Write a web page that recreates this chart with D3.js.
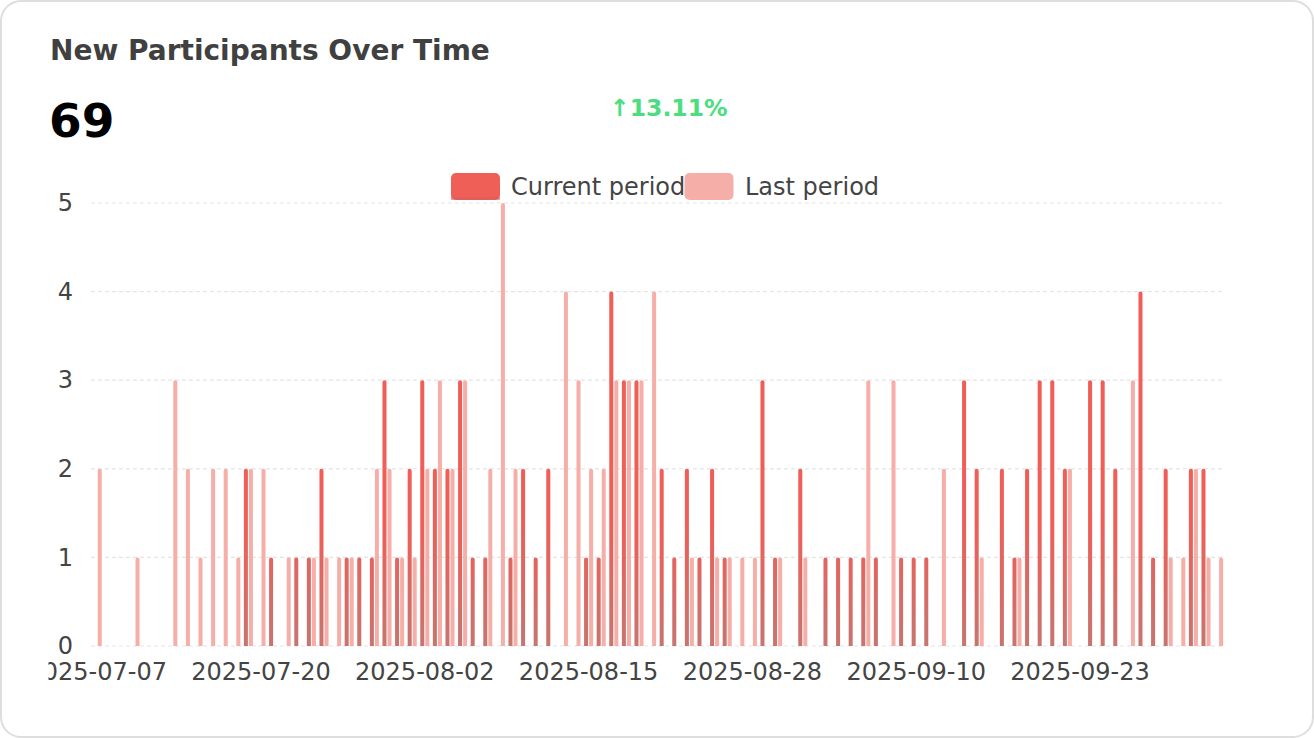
<!DOCTYPE html>
<html>
<head>
<meta charset="utf-8">
<script src="https://cdn.jsdelivr.net/npm/d3@7"></script>
<style>
  html, body { margin: 0; padding: 0; background: #ffffff; }
  svg { display: block; font-family: "DejaVu Sans", sans-serif; }
</style>
</head>
<body>
<svg id="chart" width="1314" height="738"></svg>
<script>
// ---- data ----
const dates = [
  "2025-07-07","2025-07-08","2025-07-09","2025-07-10","2025-07-11","2025-07-12","2025-07-13","2025-07-14","2025-07-15","2025-07-16",
  "2025-07-17","2025-07-18","2025-07-19","2025-07-20","2025-07-21","2025-07-22","2025-07-23","2025-07-24","2025-07-25","2025-07-26",
  "2025-07-27","2025-07-28","2025-07-29","2025-07-30","2025-07-31","2025-08-01","2025-08-02","2025-08-03","2025-08-04","2025-08-05",
  "2025-08-06","2025-08-07","2025-08-08","2025-08-09","2025-08-10","2025-08-11","2025-08-12","2025-08-13","2025-08-14","2025-08-15",
  "2025-08-16","2025-08-17","2025-08-18","2025-08-19","2025-08-20","2025-08-21","2025-08-22","2025-08-23","2025-08-24","2025-08-25",
  "2025-08-26","2025-08-27","2025-08-28","2025-08-29","2025-08-30","2025-08-31","2025-09-01","2025-09-02","2025-09-03","2025-09-04",
  "2025-09-05","2025-09-06","2025-09-07","2025-09-08","2025-09-09","2025-09-10","2025-09-11","2025-09-12","2025-09-13","2025-09-14",
  "2025-09-15","2025-09-16","2025-09-17","2025-09-18","2025-09-19","2025-09-20","2025-09-21","2025-09-22","2025-09-23","2025-09-24",
  "2025-09-25","2025-09-26","2025-09-27","2025-09-28","2025-09-29","2025-09-30","2025-10-01","2025-10-02","2025-10-03","2025-10-04"
];
const currentPeriod = [
  0,0,0,0,0,0,0,0,0,0,
  0,0,2,0,1,0,1,1,2,0,
  1,1,1,3,1,2,3,2,2,3,
  1,1,0,1,2,1,2,0,0,1,
  1,4,3,3,0,2,1,2,1,2,
  1,0,0,3,1,0,2,0,1,1,
  1,1,1,0,1,1,1,0,0,3,
  2,0,2,1,2,3,3,2,0,3,
  3,2,0,4,1,2,0,2,2,0
];
const lastPeriod = [
  2,0,0,1,0,0,3,2,1,2,
  2,1,2,2,0,1,0,1,1,1,
  1,0,2,2,1,1,2,3,2,3,
  0,2,5,2,0,0,0,4,3,2,
  2,3,3,3,4,0,0,1,0,1,
  1,1,1,0,1,0,1,0,0,0,
  0,3,0,3,0,0,0,2,0,0,
  1,0,0,1,0,0,0,2,0,0,
  0,0,3,0,0,1,1,2,1,1
];
const seriesNames = ["Current period", "Last period"];
const yTicks = [0, 1, 2, 3, 4, 5];
const xTickLabels = ["2025-07-07","2025-07-20","2025-08-02","2025-08-15","2025-08-28","2025-09-10","2025-09-23"];
const titleText = "New Participants Over Time";
const totalText = "69";
const changeText = "\u219113.11%";

// ---- layout ----
const W = 1314, H = 738;
const plotLeft = 90.9, plotRight = 1224.9, plotTop = 203, plotBottom = 646;
const colCurrent = "#EF5E57", colCurrentDark = "#C77570", colLast = "#F6AFA8";
const textCol = "#444444";

const svg = d3.select("#chart");
const defs = svg.append("defs");

// card
svg.append("rect").attr("x", 1).attr("y", 1).attr("width", W - 2).attr("height", H - 2)
  .attr("rx", 20).attr("fill", "#ffffff").attr("stroke", "#dedede").attr("stroke-width", 2);

// header
svg.append("text").attr("x", 50).attr("y", 60).attr("font-size", 28).attr("font-weight", "bold")
  .attr("fill", "#404040").text(titleText);
svg.append("text").attr("x", 49).attr("y", 137).attr("font-size", 47).attr("font-weight", "bold")
  .attr("fill", "#000000").text(totalText);
svg.append("text").attr("x", 610).attr("y", 116).attr("font-size", 23.5).attr("font-weight", "bold")
  .attr("fill", "#4ADE80").text(changeText);

// scales
const x = d3.scaleBand().domain(dates).range([plotLeft, plotRight]).paddingInner(0.2).paddingOuter(0.1);
const xs = d3.scaleBand().domain(seriesNames).range([0, x.bandwidth()]).paddingInner(0.2).paddingOuter(0.1);
const y = d3.scaleLinear().domain([0, 5]).range([plotBottom, plotTop]);

// gradient for current bars (user space)
const grad = defs.append("linearGradient").attr("id", "curGrad")
  .attr("gradientUnits", "userSpaceOnUse").attr("x1", 0).attr("x2", 0)
  .attr("y1", y(1.4)).attr("y2", y(0));
grad.append("stop").attr("offset", 0).attr("stop-color", colCurrent);
grad.append("stop").attr("offset", 1).attr("stop-color", colCurrentDark);

// grid
svg.append("g").selectAll("line").data(yTicks).join("line")
  .attr("x1", plotLeft).attr("x2", plotRight)
  .attr("y1", d => y(d)).attr("y2", d => y(d))
  .attr("stroke", "#e4e4e4").attr("stroke-width", 1.2).attr("stroke-dasharray", "4,3");

// y axis
const yAxis = svg.append("g").attr("transform", "translate(73,0)")
  .call(d3.axisLeft(y).tickValues(yTicks).tickSize(0).tickPadding(0).tickFormat(d3.format("d")));
yAxis.select(".domain").remove();
yAxis.selectAll("text").attr("font-size", 24).attr("fill", textCol).attr("font-family", "DejaVu Sans");

// x axis (clipped at the card padding)
defs.append("clipPath").attr("id", "xclip").append("rect")
  .attr("x", 48.5).attr("y", 600).attr("width", 1220).attr("height", 120);
const xAxis = svg.append("g").attr("clip-path", "url(#xclip)")
  .append("g").attr("transform", `translate(0,${plotBottom})`)
  .call(d3.axisBottom(x).tickValues(xTickLabels).tickSize(0));
xAxis.select(".domain").remove();
xAxis.selectAll("text").attr("font-size", 24).attr("fill", textCol).attr("font-family", "DejaVu Sans")
  .attr("dy", null).attr("y", 34);

// bars
function barPath(x0, w, yTop, yBase, r) {
  const h = yBase - yTop;
  if (h <= 0) return "";
  r = Math.min(r, w / 2, h);
  return `M${x0},${yBase}V${yTop + r}Q${x0},${yTop} ${x0 + r},${yTop}H${x0 + w - r}Q${x0 + w},${yTop} ${x0 + w},${yTop + r}V${yBase}Z`;
}
const series = [
  { name: seriesNames[1], values: lastPeriod, fill: colLast },
  { name: seriesNames[0], values: currentPeriod, fill: "url(#curGrad)" }
];
series.forEach(s => {
  svg.append("g").selectAll("path")
    .data(dates.map((d, i) => ({ date: d, v: s.values[i] })).filter(d => d.v > 0))
    .join("path")
    .attr("d", d => barPath(x(d.date) + xs(s.name), xs.bandwidth(), y(d.v), y(0), 2))
    .attr("fill", s.fill);
});

// legend
const legend = svg.append("g");
const lg1 = legend.append("g");
lg1.append("rect").attr("x", 451).attr("y", 173).attr("width", 49).attr("height", 27).attr("rx", 5)
  .attr("fill", colCurrent);
lg1.append("rect").attr("x", 451).attr("y", 197).attr("width", 49).attr("height", 3)
  .attr("fill", "#D9615A").attr("opacity", 0.6);
lg1.append("text").attr("x", 511).attr("y", 195).attr("font-size", 24).attr("fill", textCol)
  .text(seriesNames[0]);
const box2x = 684.5;
legend.append("rect").attr("x", box2x).attr("y", 173).attr("width", 49).attr("height", 27).attr("rx", 5)
  .attr("fill", colLast);
legend.append("text").attr("x", box2x + 60.5).attr("y", 195).attr("font-size", 24).attr("fill", textCol)
  .text(seriesNames[1]);
</script>
</body>
</html>
